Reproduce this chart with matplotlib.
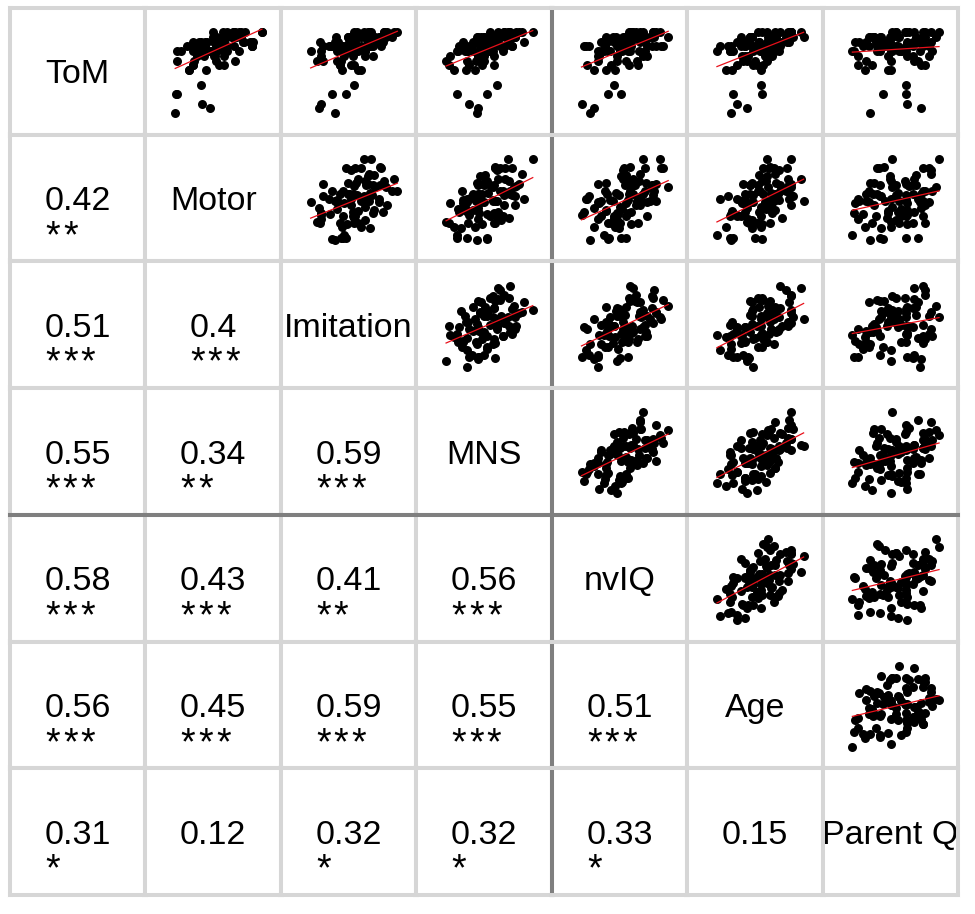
import matplotlib
matplotlib.use("Agg")
import matplotlib.pyplot as plt
import numpy as np
from matplotlib.transforms import offset_copy

plt.rcParams["font.family"] = ["Liberation Sans", "DejaVu Sans"]

names = ["ToM", "Motor", "Imitation", "MNS", "nvIQ", "Age", "Parent Q"]

tom = [5, 16, 14, 3, 16, 12, 17, 7, 16, 15, 12, 17, 14, 17, 9, 18, 16, 14, 18, 16,
       13, 18, 17, 15, 19, 17, 19, 14, 19, 18, 16, 19, 16, 19, 18, 20, 17, 19, 17, 20,
       18, 20, 17, 20, 19, 20, 18, 20, 20, 19,
       15, 7, 17, 13, 4, 16, 16, 13, 18, 12, 17, 17, 16, 13, 17, 18, 15, 17, 16, 19,
       16, 18, 19, 15, 19, 18, 19, 17, 18, 17, 20, 19, 18, 20, 18, 17, 20, 19, 20, 19]
motor = [37, 18, 30, 13, 49, 25, 40, 14, 39, 48, 25, 38, 15, 55, 36, 48, 29, 67, 36, 45,
         29, 57, 51, 39, 68, 36, 58, 50, 66, 34, 60, 66, 51, 47, 75, 56, 82, 49, 66, 47,
         74, 65, 82, 60, 50, 76, 83, 67, 91, 64,
         33, 15, 52, 29, 44, 15, 43, 52, 29, 41, 28, 60, 36, 57, 24, 50, 57, 32, 57, 50,
         70, 42, 57, 49, 72, 40, 68, 56, 82, 50, 70, 55, 80, 66, 52, 82, 72, 64, 91, 60]
imitation = [19, 41, 15, 32, 9, 39, 49, 29, 19, 41, 57, 27, 38, 21, 50, 35, 54, 21, 49, 60,
             37, 45, 34, 68, 52, 40, 65, 34, 61, 50, 40, 75, 59, 47, 69, 53, 42, 74, 68, 81,
             63, 50, 76, 91, 57, 64, 75, 63, 59, 80,
             19, 42, 26, 50, 17, 40, 34, 47, 18, 54, 43, 29, 51, 37, 65, 32, 49, 60, 45, 33,
             60, 69, 44, 60, 54, 77, 44, 67, 51, 64, 78, 59, 47, 78, 74, 57, 88, 70, 66, 86]
mns = [33, 22, 11, 41, 31, 19, 24, 51, 43, 15, 39, 51, 31, 36, 60, 27, 32, 48, 60, 29,
       57, 43, 27, 57, 41, 66, 52, 40, 48, 72, 66, 42, 56, 78, 49, 67, 75, 45, 57, 67,
       44, 79, 63, 73, 60, 85, 58, 82, 71, 56,
       42, 22, 31, 14, 42, 51, 23, 33, 58, 30, 46, 26, 54, 46, 25, 56, 42, 64, 37, 58,
       51, 37, 73, 48, 68, 61, 48, 75, 58, 44, 72, 78, 60, 54, 87, 68, 61, 77, 95, 63]
nviq = [11, 32, 44, 19, 26, 42, 13, 36, 54, 27, 23, 45, 53, 18, 41, 53, 36, 26, 53, 47,
        64, 35, 54, 44, 34, 72, 43, 63, 52, 41, 70, 61, 38, 66, 53, 78, 51, 63, 77, 62,
        48, 58, 87, 56, 75, 66, 56, 81, 84, 77,
        26, 48, 15, 39, 23, 37, 49, 16, 47, 34, 57, 33, 29, 55, 46, 29, 68, 44, 56, 40,
        65, 34, 59, 72, 50, 57, 71, 46, 70, 81, 55, 67, 50, 78, 66, 85, 59, 92, 68, 79]
age = [28, 9, 37, 22, 43, 18, 36, 52, 24, 33, 51, 22, 45, 19, 51, 36, 59, 34, 28, 51,
       43, 67, 36, 61, 42, 32, 60, 56, 40, 71, 50, 40, 68, 60, 49, 79, 58, 42, 69, 79,
       56, 76, 53, 69, 91, 64, 59, 79, 56, 79,
       38, 24, 12, 47, 37, 21, 55, 28, 39, 23, 52, 48, 21, 53, 42, 63, 36, 42, 64, 32,
       55, 64, 40, 54, 76, 49, 65, 43, 75, 59, 52, 81, 68, 48, 77, 63, 89, 57, 79, 74]
parentq = [58, 18, 46, 31, 67, 27, 51, 40, 19, 58, 46, 26, 66, 38, 57, 20, 52, 63, 35, 47,
           71, 28, 57, 44, 34, 69, 51, 28, 64, 43, 76, 38, 57, 34, 64, 50, 74, 30, 62, 71,
           45, 59, 36, 69, 52, 75, 41, 57, 81, 47,
           22, 57, 46, 32, 68, 38, 53, 22, 62, 44, 58, 30, 53, 68, 39, 23, 62, 50, 36, 69,
           46, 58, 33, 74, 45, 63, 31, 57, 69, 42, 56, 39, 75, 50, 66, 37, 63, 79, 47, 71]

corr_text = [
    [],
    ["0.42"],
    ["0.51", "0.4"],
    ["0.55", "0.34", "0.59"],
    ["0.58", "0.43", "0.41", "0.56"],
    ["0.56", "0.45", "0.59", "0.55", "0.51"],
    ["0.31", "0.12", "0.32", "0.32", "0.33", "0.15"],
]
corr_stars = [
    [],
    ["**"],
    ["***", "***"],
    ["***", "**", "***"],
    ["***", "***", "**", "***"],
    ["***", "***", "***", "***", "***"],
    ["*", "", "*", "*", "*", ""],
]

variables = [np.array(v, dtype=float) for v in
             [tom, motor, imitation, mns, nviq, age, parentq]]

W, H = 975, 914
fig = plt.figure(figsize=(W / 100, H / 100), dpi=100)
n = len(names)
axes = fig.subplots(n, n, gridspec_kw=dict(left=10 / W, right=958 / W,
                                           top=1 - 8 / H, bottom=1 - 895 / H,
                                           wspace=0, hspace=0))
light = "#d6d6d6"
dark = "#7f7f7f"
fs = 24.5
fs_star = 27

pending_stars = []
for i in range(n):
    for j in range(n):
        ax = axes[i, j]
        ax.set_xticks([])
        ax.set_yticks([])
        for sp in ax.spines.values():
            sp.set_color(light)
            sp.set_linewidth(2.9)
            sp.set_zorder(5)
        if j == 3:
            ax.spines["right"].set_color(dark)
        if j == 4:
            ax.spines["left"].set_color(dark)
        if i == 3:
            ax.spines["bottom"].set_color(dark)
        if i == 4:
            ax.spines["top"].set_color(dark)

        base_tr = offset_copy(ax.transAxes, fig=fig, x=0, y=-12, units="dots")
        if i == j:
            ax.set_xlim(0, 1)
            ax.set_ylim(0, 1)
            ax.text(0.5, 0.5, names[i], ha="center", va="baseline", fontsize=fs,
                    transform=base_tr, zorder=2)
        elif i > j:
            ax.set_xlim(0, 1)
            ax.set_ylim(0, 1)
            t = ax.text(0.5, 0.5, corr_text[i][j], ha="center", va="baseline",
                        fontsize=fs, transform=base_tr, zorder=2)
            if corr_stars[i][j]:
                pending_stars.append((ax, t, corr_stars[i][j]))
        else:
            x = variables[j]
            y = variables[i]
            ax.scatter(x, y, s=42, c="black", linewidths=0, zorder=2)
            coef = np.polyfit(x, y, 1)
            xs = np.array([x.min(), x.max()])
            ax.plot(xs, coef[0] * xs + coef[1], color="#e8101a", lw=0.9, zorder=3)
            rx = x.max() - x.min()
            ry = y.max() - y.min()
            ax.set_xlim(x.min() - 0.22 / 0.64 * rx, x.max() + 0.14 / 0.64 * rx)
            ax.set_ylim(y.min() - 0.17 / 0.64 * ry, y.max() + 0.19 / 0.64 * ry)

# significance stars: spaced glyphs placed under the left part of each number
fig.canvas.draw()
renderer = fig.canvas.get_renderer()
for ax, t, st in pending_stars:
    bb = t.get_window_extent(renderer)
    cx = ax.transAxes.transform((0.5, 0.5))[0]
    for k in range(len(st)):
        tr = offset_copy(ax.transAxes, fig=fig,
                         x=(bb.x0 + 8 + 17.7 * k) - cx,
                         y=-49, units="dots")
        ax.text(0.5, 0.5, "*", ha="center", va="baseline", fontsize=fs_star,
                transform=tr, zorder=2)

fig.savefig("out.png", dpi=100, facecolor="white")
